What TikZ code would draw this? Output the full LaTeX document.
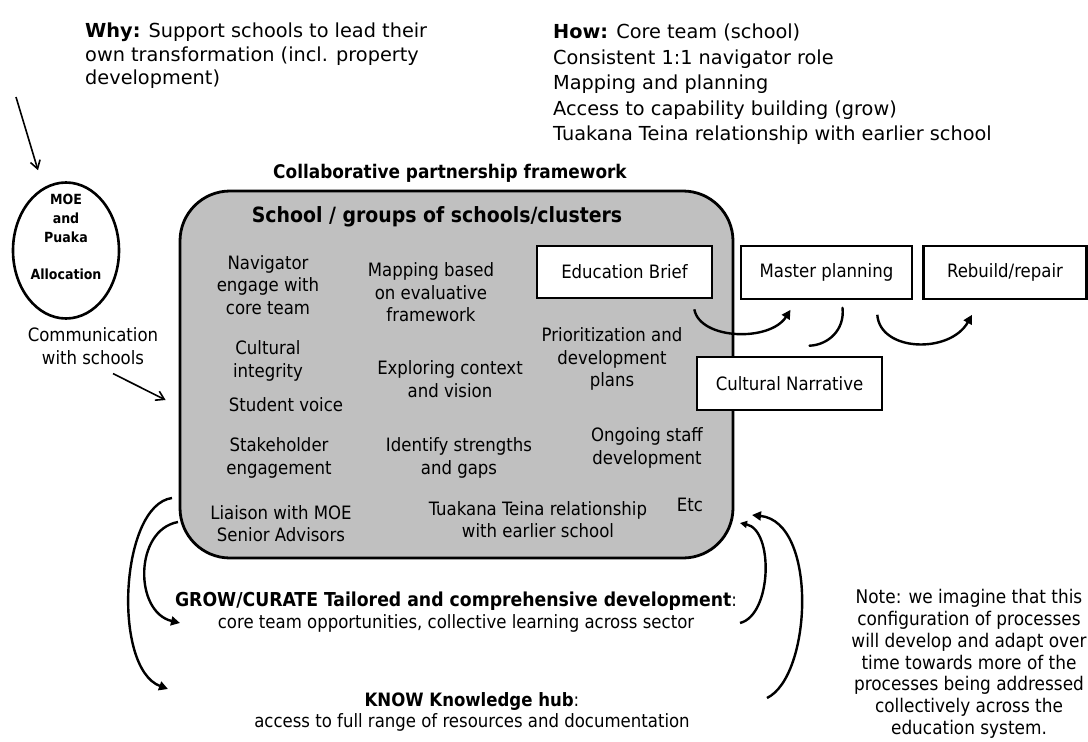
\documentclass[tikz,border=0pt]{standalone}
\usepackage{fontspec}
\setmainfont{DejaVu Sans}
\newfontfamily\cond{DejaVu Sans Condensed}
\usetikzlibrary{shapes.geometric,arrows.meta}
\definecolor{boxgray}{RGB}{192,192,192}
\begin{document}
\begin{tikzpicture}[x=1pt,y=-1pt,
  body/.style={font=\cond\fontsize{18.4}{22.5}\selectfont, align=center, inner sep=0pt},
  toptext/.style={align=left, inner sep=0pt},
  wbox/.style={draw, line width=2.6pt, fill=white, inner sep=0pt, font=\cond\fontsize{18.4}{22}\selectfont},
  curv/.style={line width=2.4pt, -{Triangle[length=9pt,width=9pt]}},
  smallcurv/.style={line width=2.4pt, -{Triangle[length=7pt,width=7pt]}},
  plaincurv/.style={line width=2.4pt, line cap=round},
  barb/.style={line width=1.6pt, -{Straight Barb[length=8pt,width=10pt]}},
  bottomtext/.style={font=\cond\fontsize{18.4}{21.5}\selectfont, align=center, inner sep=0pt},
]
\useasboundingbox (0,0) rectangle (1088,742);
\fill[white] (0,0) rectangle (1088,742);

% top texts
\node[toptext, font=\fontsize{19.3}{23.5}\selectfont, anchor=west] (why) at (85,56) {\textbf{Why:} Support schools to lead their\\own transformation (incl. property\\development)};
\node[toptext, font=\fontsize{19.3}{25.5}\selectfont, anchor=west] (how) at (553,84.5) {\textbf{How:} Core team (school)\\Consistent 1:1 navigator role\\Mapping and planning\\Access to capability building (grow)\\Tuakana Teina relationship with earlier school};

\node[font=\cond\bfseries\fontsize{18.8}{20}\selectfont, inner sep=0pt] (collab) at (450,173) {Collaborative partnership framework};

% ellipse
\node[draw, ellipse, line width=2.6pt, minimum width=106pt, minimum height=136pt, inner sep=0pt] (moe) at (66,250.5) {};
\node[font=\cond\bfseries\fontsize{14}{19}\selectfont, align=center, inner sep=0pt] (moetext) at (66,236.5) {MOE\\and\\Puaka\\[18pt]Allocation};

\node[body] (comm) at (93,346) {Communication\\with schools};

% gray box
\node[draw, line width=2.8pt, fill=boxgray, rounded corners=50pt, minimum width=553pt, minimum height=367pt, inner sep=0pt] (box) at (456.5,374.5) {};
\node[font=\cond\bfseries\fontsize{21}{24}\selectfont, inner sep=0pt] (title) at (437,217) {School / groups of schools/clusters};

\node[body] (nav)  at (268,285)   {Navigator\\engage with\\core team};
\node[body] (map)  at (431,292.5) {Mapping based\\on evaluative\\framework};
\node[wbox, minimum width=175pt, minimum height=52pt] (eb) at (624.5,272) {Education Brief};
\node[body] (prio) at (612,359)   {Prioritization and\\development\\plans};
\node[body] (cult) at (268,361)   {Cultural\\integrity};
\node[body] (expl) at (450,379)   {Exploring context\\and vision};
\node[body] (stud) at (286,405)   {Student voice};
\node[body] (stak) at (279,458)   {Stakeholder\\engagement};
\node[body] (iden) at (459,458)   {Identify strengths\\and gaps};
\node[body] (ongo) at (647,448)   {Ongoing staff\\development};
\node[body] (liai) at (281,523.5) {Liaison with MOE\\Senior Advisors};
\node[body] (tuak) at (538,519.5) {Tuakana Teina relationship\\with earlier school};
\node[body] (etc)  at (690,505)   {Etc};

% right boxes
\node[wbox, minimum width=171pt, minimum height=53pt] (mp) at (826.5,272.5) {Master planning};
\node[wbox, minimum width=163pt, minimum height=53pt] (rr) at (1005,272.5) {Rebuild/repair};
\node[wbox, minimum width=185pt, minimum height=53pt] (cn) at (789.5,383.5) {Cultural Narrative};

% bottom texts
\node[bottomtext] (grow) at (456,612) {{\bfseries\fontsize{19.2}{21.5}\selectfont GROW/CURATE Tailored and comprehensive development}:\\core team opportunities, collective learning across sector};
\node[bottomtext] (know) at (472,712) {\textbf{KNOW Knowledge hub}:\\access to full range of resources and documentation};
\node[font=\cond\fontsize{18.8}{21.8}\selectfont, align=center, inner sep=0pt] (note) at (969,664) {Note: we imagine that this\\configuration of processes\\will develop and adapt over\\time towards more of the\\processes being addressed\\collectively across the\\education system.};

% free ends of connectors
\coordinate (whystart) at (16,97);
\coordinate (lotop) at (172,498);
\coordinate (loend) at (168,689);
\coordinate (litop) at (178,522);
\coordinate (liend) at (180,623);
\coordinate (ritip) at (740,523);
\coordinate (ribot) at (740,623);
\coordinate (rotip) at (752,515);
\coordinate (robot) at (767,698);

% straight arrows
\draw[barb] (whystart) -- ([shift={(-28,-11)}]moe.north);
\draw[barb] ([shift={(20,9)}]comm.south) -- ([shift={(-13,25.5)}]box.west);

% curved arrows between boxes
\draw[curv] ([shift={(-19,10)}]eb.south east) .. controls (700,340) and (770,342) .. ([shift={(-36,9.5)}]mp.south);
\draw[plaincurv] ([shift={(16,7.5)}]mp.south) .. controls (845,330) and (828,345) .. ([shift={(20,-10)}]cn.north);
\draw[curv] ([shift={(-36,14.5)}]mp.south east) .. controls (880,352) and (950,354) .. ([shift={(-33,14.5)}]rr.south);

% left loop arrows (from the school box to GROW and KNOW)
\draw[curv] (lotop) .. controls (120,505) and (112,668) .. (loend);
\draw[curv] (litop) .. controls (134,530) and (134,612) .. (liend);

% right loop arrows (from GROW and KNOW back to the school box)
\draw[smallcurv] (ribot) .. controls (772,615) and (774,530) .. (ritip);
\draw[curv] (robot) .. controls (812,676) and (818,522) .. (rotip);

\end{tikzpicture}
\end{document}
